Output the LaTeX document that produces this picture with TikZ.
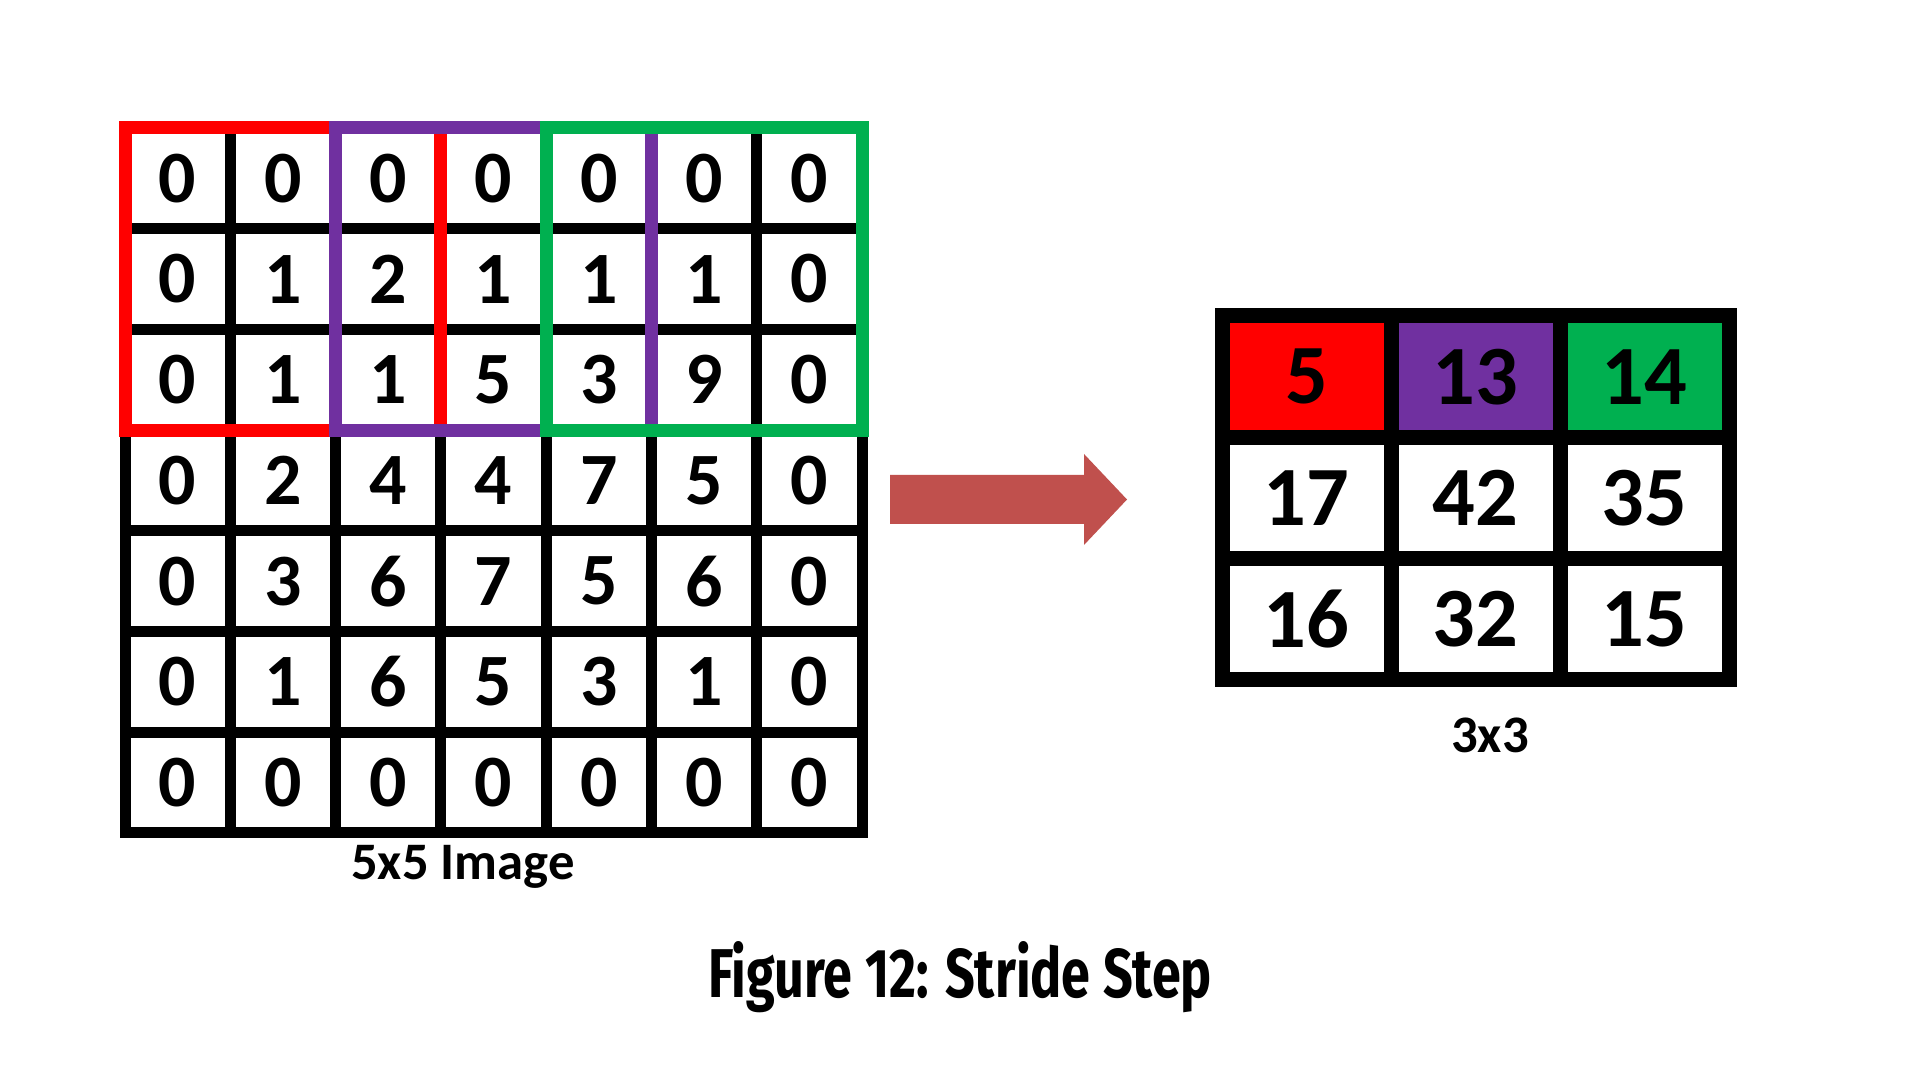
\documentclass[tikz,border=0pt]{standalone}
\usepackage{fontspec}
\setmainfont{Carlito}
\newfontfamily\capfont{Fira Sans}
\definecolor{kred}{RGB}{255,0,0}
\definecolor{kpurple}{RGB}{112,48,160}
\definecolor{kgreen}{RGB}{0,176,80}
\definecolor{arrowred}{RGB}{192,80,77}

\begin{document}
\begin{tikzpicture}[
  incell/.style={draw, line width=0.11cm, minimum width=1.053cm, minimum height=1.007cm,
    inner sep=0pt, outer sep=0pt, font=\fontsize{21}{21}\selectfont\bfseries},
  outcell/.style={draw, line width=0.15cm, minimum width=1.69cm, minimum height=1.213cm,
    inner sep=0pt, outer sep=0pt, font=\fontsize{24}{24}\selectfont\bfseries},
  kframe/.style={line width=0.13cm},
  sublabel/.style={font=\fontsize{15}{15}\selectfont\bfseries}
]
\useasboundingbox[fill=white] (0,0) rectangle (19.2,10.8);

% padded input
\foreach \row [count=\r from 0] in {{0,0,0,0,0,0,0},{0,1,2,1,1,1,0},{0,1,1,5,3,9,0},
    {0,2,4,4,7,5,0},{0,3,6,7,5,6,0},{0,1,6,5,3,1,0},{0,0,0,0,0,0,0}}{
  \foreach \v [count=\c from 0] in \row {
    \node[incell] (in-\r-\c) at ({1.25+(\c+0.5)*1.053},{9.52-(\r+0.5)*1.007}) {\v};
  }
}

% kernel positions, stride 2
\draw[kframe, kred] (in-0-0.north west) rectangle (in-2-2.south east);
\draw[kframe, kpurple] (in-0-2.north west) rectangle (in-2-4.south east);
\draw[kframe, kgreen] (in-0-4.north west) rectangle (in-2-6.south east);

\node[sublabel] (inlabel) at (4.63,2.13) {5x5 Image};

% arrow
\fill[arrowred] (8.90,5.56) -- (10.84,5.56) -- (10.84,5.35) -- (11.27,5.805)
  -- (10.84,6.26) -- (10.84,6.05) -- (8.90,6.05) -- cycle;

% output
\foreach \v/\c/\f in {5/0/kred,13/1/kpurple,14/2/kgreen}
  \node[outcell, fill=\f] (out-0-\c) at ({12.22+(\c+0.5)*1.69},{7.64-0.5*1.213}) {\v};
\foreach \v/\r/\c in {17/1/0,42/1/1,35/1/2,16/2/0,32/2/1,15/2/2}
  \node[outcell, fill=white] (out-\r-\c) at ({12.22+(\c+0.5)*1.69},{7.64-(\r+0.5)*1.213}) {\v};

\node[sublabel] (outlabel) at (14.90,3.45) {3x3};

\node (caption) at (9.60,1.03) {\capfont\bfseries\resizebox{5.04cm}{0.56cm}{Figure 12: Stride Step}};
\end{tikzpicture}
\end{document}
